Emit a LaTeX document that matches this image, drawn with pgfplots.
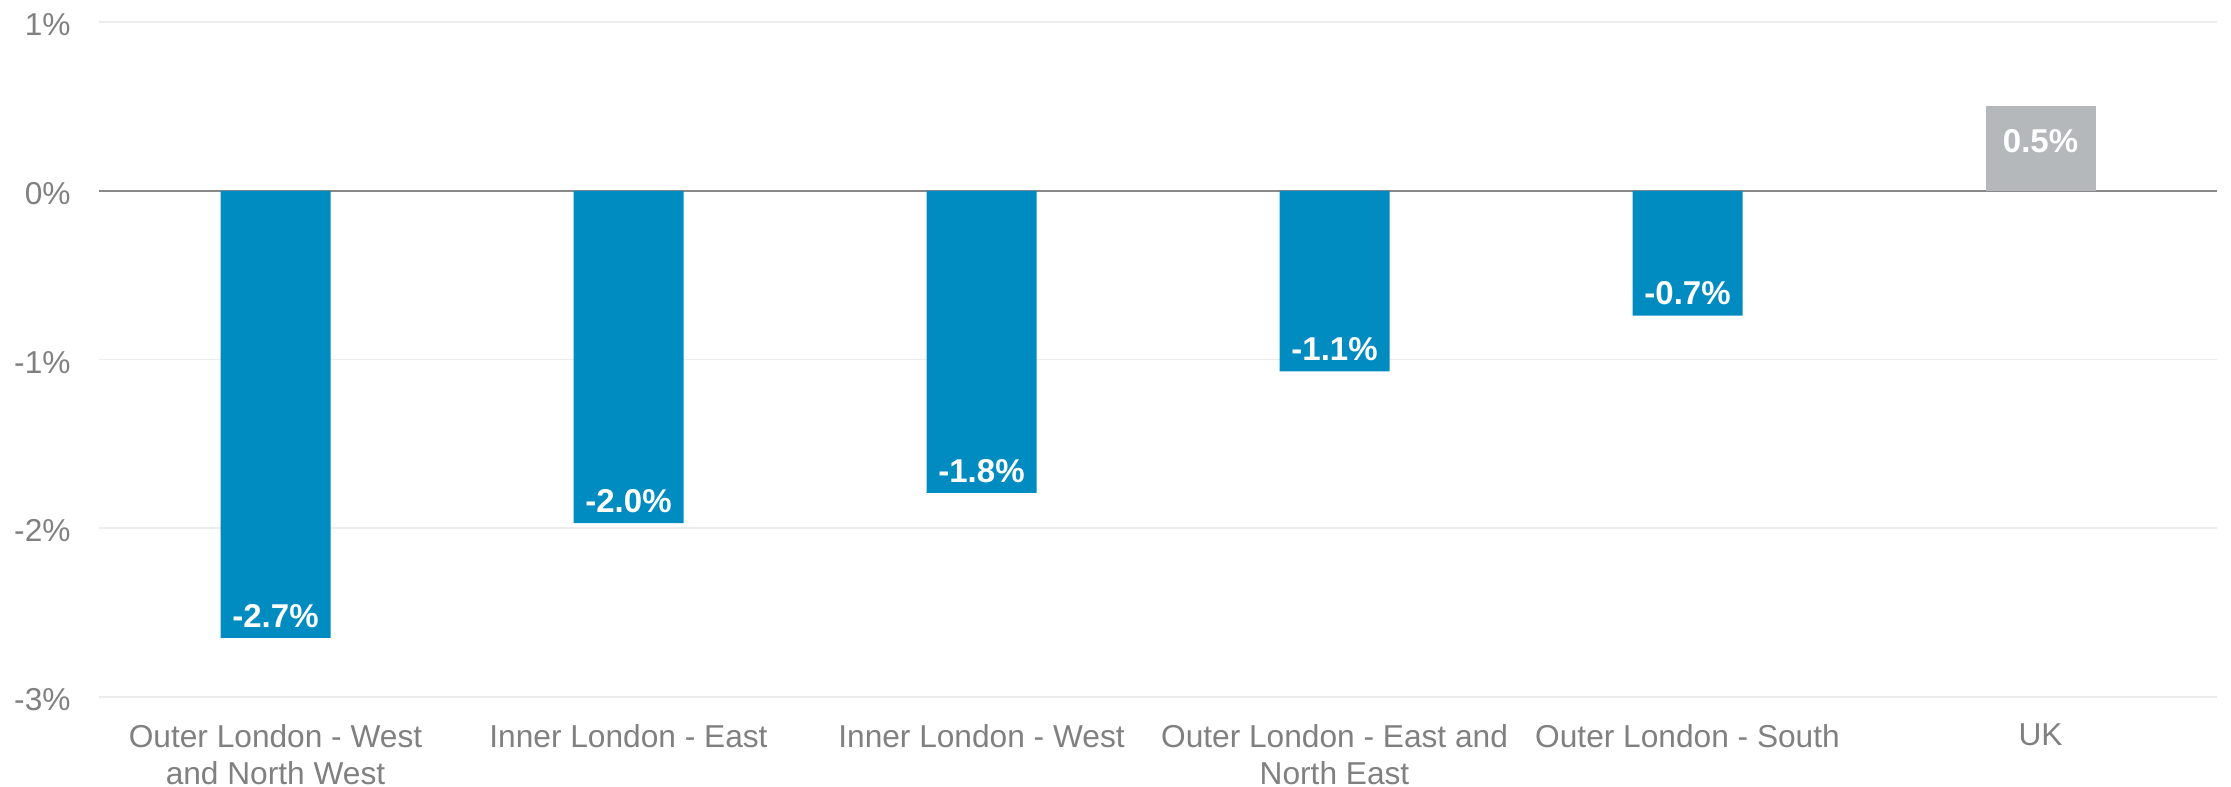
\documentclass[border=0pt]{standalone}
\usepackage{pgfplots}
\pgfplotsset{compat=1.18}
\usetikzlibrary{calc}
\usepackage{fontspec}
\setmainfont{Liberation Sans}
\definecolor{barblue}{RGB}{0,140,193}
\definecolor{bargray}{RGB}{181,184,186}
\definecolor{txtgray}{RGB}{128,128,128}
\definecolor{gridgray}{RGB}{236,236,236}
\definecolor{zerogray}{RGB}{137,137,137}
\begin{document}
\begin{tikzpicture}
\begin{axis}[
  scale only axis,
  width=635.4pt, height=202.5pt,
  xmin=-0.5, xmax=5.5, ymin=-3, ymax=1,
  axis line style={draw=none},
  major tick length=0pt,
  ytick={-3,-2,-1,0,1},
  yticklabels={-3\%,-2\%,-1\%,0\%,1\%},
  xtick={0,1,2,3,4,5},
  xticklabels={{Outer London - West\\and North West},{Inner London - East},{Inner London - West},{Outer London - East and\\North East},{Outer London - South},{UK}},
  ymajorgrids,
  grid style={draw=gridgray, line width=0.5pt},
  extra y ticks={0},
  extra y tick labels={},
  extra y tick style={grid style={draw=zerogray, line width=0.45pt}},
  ticklabel style={font=\fontsize{9.5}{11.2}\selectfont, text=txtgray},
  xticklabel style={align=center, yshift=-4.6pt},
  yticklabel style={xshift=-5pt, yshift=-0.8pt},
  ybar, bar width=33pt,
  clip=false,
]
\addplot[fill=barblue, draw=none, bar shift=0pt,
  point meta=explicit symbolic,
  nodes near coords,
  every node near coord/.style={anchor=center, yshift=6.6pt, text=white, font=\fontsize{9.9}{10}\selectfont\bfseries}]
  coordinates {(0,-2.65) [-2.7\%] (1,-1.97) [-2.0\%] (2,-1.79) [-1.8\%] (3,-1.07) [-1.1\%] (4,-0.74) [-0.7\%]};
\addplot[fill=bargray, draw=none, bar shift=0pt,
  point meta=explicit symbolic,
  nodes near coords,
  every node near coord/.style={anchor=center, yshift=-10.4pt, text=white, font=\fontsize{9.9}{10}\selectfont\bfseries}]
  coordinates {(5,0.5) [0.5\%]};
\end{axis}
\pgfresetboundingbox
\path (current axis.south west) ++(-29.7pt,-26.7pt) rectangle ($(current axis.north east)+(4.2pt,6.6pt)$);
\end{tikzpicture}
\end{document}
